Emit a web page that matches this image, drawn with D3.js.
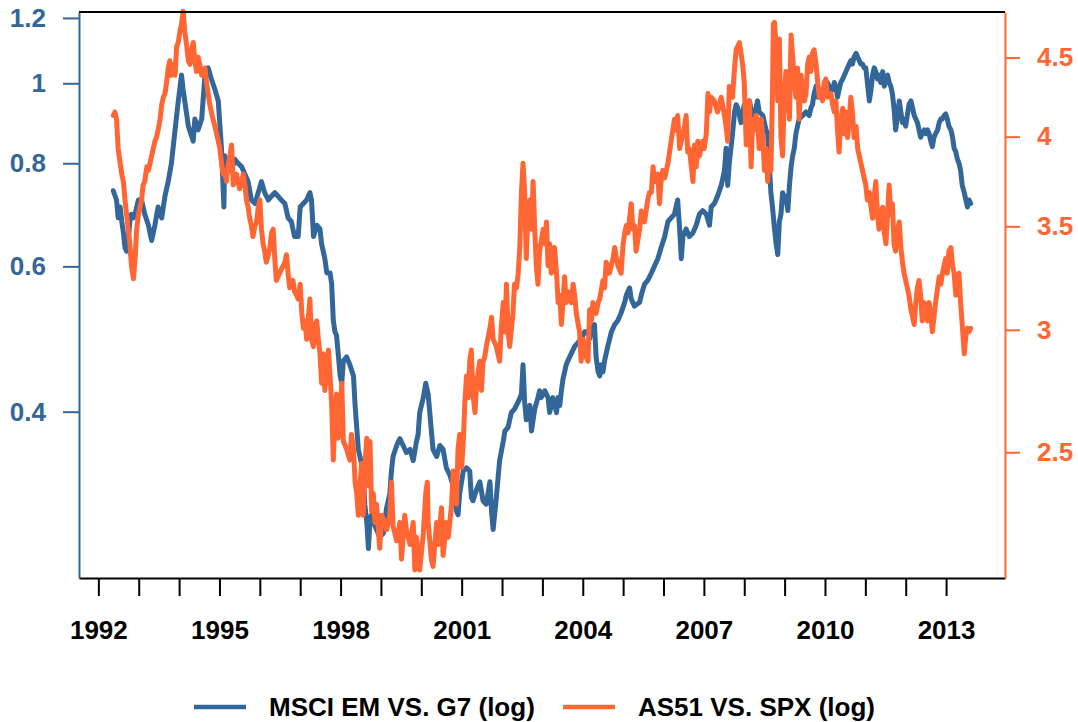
<!DOCTYPE html>
<html>
<head>
<meta charset="utf-8">
<script src="https://cdn.jsdelivr.net/npm/d3@7.9.0/dist/d3.min.js"></script>
<style>
  body { margin: 0; background: #fff; }
  svg { display: block; }
  text { font-family: "Liberation Sans", Arial, Helvetica, sans-serif; font-weight: bold; }
</style>
</head>
<body>
<svg id="chart" width="1078" height="722"></svg>
<script>
const emSeries = [
  [1992.37,0.741],[1992.45,0.722],[1992.49,0.687],[1992.54,0.708],[1992.58,0.680],[1992.62,0.659],[1992.66,0.632],[1992.70,0.626],
  [1992.74,0.645],[1992.78,0.680],[1992.82,0.694],[1992.87,0.687],[1992.91,0.694],[1992.99,0.722],[1993.07,0.722],[1993.15,0.694],
  [1993.24,0.673],[1993.32,0.645],[1993.40,0.673],[1993.48,0.708],[1993.57,0.687],[1993.65,0.730],[1993.73,0.760],[1993.81,0.800],
  [1993.90,0.878],[1993.98,0.952],[1994.06,1.023],[1994.10,0.982],[1994.14,0.952],[1994.23,0.887],[1994.35,0.851],[1994.39,0.905],
  [1994.47,0.878],[1994.56,0.905],[1994.64,1.023],[1994.72,1.044],[1994.80,1.012],[1994.89,0.982],[1994.97,0.952],[1995.05,0.834],
  [1995.11,0.708],[1995.13,0.817],[1995.22,0.792],[1995.30,0.784],[1995.38,0.809],[1995.46,0.800],[1995.55,0.792],[1995.63,0.776],
  [1995.71,0.760],[1995.79,0.722],[1995.88,0.715],[1995.96,0.737],[1996.04,0.760],[1996.12,0.737],[1996.21,0.722],[1996.29,0.730],
  [1996.37,0.737],[1996.45,0.730],[1996.53,0.722],[1996.62,0.715],[1996.70,0.687],[1996.78,0.680],[1996.86,0.652],[1996.95,0.652],
  [1997.00,0.708],[1997.08,0.715],[1997.16,0.722],[1997.24,0.737],[1997.28,0.722],[1997.33,0.652],[1997.41,0.673],[1997.49,0.666],
  [1997.53,0.639],[1997.61,0.613],[1997.66,0.589],[1997.74,0.589],[1997.78,0.571],[1997.82,0.516],[1997.86,0.500],[1997.90,0.495],
  [1997.94,0.471],[1997.99,0.442],[1998.03,0.433],[1998.07,0.461],[1998.15,0.466],[1998.23,0.456],[1998.32,0.442],[1998.36,0.407],
  [1998.40,0.383],[1998.44,0.360],[1998.48,0.353],[1998.56,0.339],[1998.60,0.309],[1998.65,0.294],[1998.69,0.273],[1998.73,0.297],
  [1998.77,0.300],[1998.81,0.294],[1998.89,0.288],[1998.97,0.282],[1999.06,0.285],[1999.14,0.306],[1999.22,0.318],[1999.26,0.339],
  [1999.30,0.353],[1999.39,0.364],[1999.47,0.371],[1999.55,0.364],[1999.63,0.357],[1999.72,0.360],[1999.80,0.349],[1999.88,0.368],
  [1999.92,0.375],[1999.96,0.399],[2000.05,0.416],[2000.11,0.433],[2000.17,0.420],[2000.21,0.399],[2000.25,0.379],[2000.29,0.360],
  [2000.38,0.353],[2000.46,0.364],[2000.54,0.360],[2000.62,0.342],[2000.71,0.335],[2000.79,0.325],[2000.87,0.303],[2000.91,0.300],
  [2000.95,0.318],[2001.04,0.339],[2001.12,0.342],[2001.20,0.339],[2001.24,0.315],[2001.28,0.312],[2001.37,0.322],[2001.45,0.329],
  [2001.53,0.312],[2001.61,0.309],[2001.70,0.329],[2001.74,0.303],[2001.78,0.288],[2001.86,0.315],[2001.90,0.332],[2001.94,0.349],
  [2002.03,0.368],[2002.07,0.379],[2002.15,0.383],[2002.23,0.399],[2002.31,0.403],[2002.40,0.411],[2002.48,0.420],[2002.52,0.456],
  [2002.56,0.411],[2002.60,0.391],[2002.64,0.403],[2002.69,0.407],[2002.73,0.379],[2002.77,0.391],[2002.81,0.403],[2002.89,0.416],
  [2002.93,0.424],[2002.97,0.416],[2003.06,0.424],[2003.14,0.416],[2003.18,0.399],[2003.26,0.416],[2003.35,0.399],[2003.39,0.416],
  [2003.43,0.407],[2003.47,0.424],[2003.51,0.438],[2003.55,0.447],[2003.59,0.456],[2003.63,0.461],[2003.72,0.471],[2003.80,0.480],
  [2003.88,0.485],[2003.96,0.490],[2004.05,0.500],[2004.13,0.500],[2004.17,0.490],[2004.21,0.505],[2004.29,0.510],[2004.33,0.466],
  [2004.38,0.447],[2004.42,0.442],[2004.46,0.456],[2004.50,0.447],[2004.54,0.461],[2004.62,0.480],[2004.71,0.500],[2004.79,0.510],
  [2004.87,0.516],[2004.95,0.527],[2005.04,0.543],[2005.08,0.554],[2005.16,0.565],[2005.20,0.548],[2005.28,0.537],[2005.41,0.543],
  [2005.45,0.554],[2005.53,0.571],[2005.61,0.577],[2005.70,0.589],[2005.78,0.601],[2005.86,0.613],[2005.94,0.632],[2006.03,0.652],
  [2006.11,0.680],[2006.19,0.687],[2006.27,0.694],[2006.35,0.722],[2006.40,0.666],[2006.44,0.613],[2006.48,0.652],[2006.56,0.666],
  [2006.64,0.652],[2006.73,0.659],[2006.81,0.673],[2006.89,0.694],[2006.97,0.701],[2007.06,0.694],[2007.14,0.673],[2007.18,0.708],
  [2007.26,0.715],[2007.34,0.730],[2007.43,0.752],[2007.51,0.784],[2007.55,0.834],[2007.59,0.752],[2007.63,0.800],[2007.71,0.869],
  [2007.76,0.923],[2007.80,0.942],[2007.84,0.933],[2007.92,0.896],[2008.00,0.942],[2008.09,0.933],[2008.13,0.952],[2008.21,0.905],
  [2008.29,0.933],[2008.33,0.952],[2008.37,0.923],[2008.46,0.914],[2008.54,0.878],[2008.58,0.869],[2008.62,0.800],[2008.66,0.737],
  [2008.70,0.708],[2008.75,0.666],[2008.79,0.639],[2008.83,0.620],[2008.87,0.680],[2008.91,0.694],[2008.95,0.737],[2008.99,0.722],
  [2009.03,0.730],[2009.08,0.701],[2009.12,0.752],[2009.16,0.792],[2009.20,0.817],[2009.24,0.834],[2009.28,0.869],[2009.32,0.887],
  [2009.36,0.905],[2009.45,0.914],[2009.53,0.923],[2009.61,0.914],[2009.65,0.933],[2009.69,0.942],[2009.73,0.971],[2009.78,0.992],
  [2009.82,0.962],[2009.86,0.971],[2009.90,0.982],[2009.94,0.971],[2009.98,0.992],[2010.02,0.982],[2010.06,1.002],[2010.10,0.992],
  [2010.15,0.982],[2010.19,0.982],[2010.23,1.002],[2010.27,0.992],[2010.31,0.962],[2010.35,0.982],[2010.39,1.002],[2010.44,1.012],
  [2010.48,1.023],[2010.52,1.033],[2010.56,1.044],[2010.60,1.055],[2010.64,1.065],[2010.68,1.055],[2010.72,1.076],[2010.77,1.087],
  [2010.81,1.076],[2010.85,1.065],[2010.89,1.055],[2010.93,1.055],[2010.97,1.044],[2011.01,1.044],[2011.05,1.002],[2011.10,0.952],
  [2011.14,0.982],[2011.18,1.023],[2011.22,1.044],[2011.26,1.033],[2011.30,1.012],[2011.34,1.023],[2011.38,1.002],[2011.43,1.033],
  [2011.47,0.992],[2011.51,1.012],[2011.55,1.023],[2011.59,1.002],[2011.63,0.992],[2011.67,0.971],[2011.71,0.933],[2011.75,0.878],
  [2011.80,0.914],[2011.84,0.952],[2011.88,0.923],[2011.92,0.896],[2011.96,0.905],[2012.00,0.887],[2012.04,0.914],[2012.08,0.942],
  [2012.13,0.952],[2012.17,0.933],[2012.21,0.914],[2012.25,0.905],[2012.29,0.896],[2012.33,0.878],[2012.37,0.860],[2012.41,0.869],
  [2012.46,0.878],[2012.50,0.869],[2012.54,0.878],[2012.58,0.869],[2012.62,0.851],[2012.66,0.838],[2012.70,0.860],[2012.74,0.869],
  [2012.79,0.878],[2012.83,0.896],[2012.87,0.905],[2012.91,0.905],[2012.95,0.914],[2012.99,0.918],[2013.03,0.905],[2013.07,0.887],
  [2013.12,0.878],[2013.16,0.860],[2013.20,0.834],[2013.24,0.826],[2013.28,0.809],[2013.32,0.800],[2013.36,0.784],[2013.40,0.752],
  [2013.45,0.737],[2013.49,0.722],[2013.53,0.708],[2013.57,0.722],[2013.61,0.715]
];

const asSeries = [
  [1992.37,4.128],[1992.41,4.150],[1992.45,4.105],[1992.49,3.930],[1992.54,3.845],[1992.58,3.783],[1992.62,3.742],[1992.66,3.640],
  [1992.70,3.561],[1992.74,3.485],[1992.78,3.410],[1992.82,3.300],[1992.87,3.237],[1992.91,3.336],[1992.95,3.485],[1992.99,3.561],
  [1993.03,3.601],[1993.07,3.640],[1993.11,3.722],[1993.15,3.742],[1993.20,3.824],[1993.24,3.804],[1993.28,3.845],[1993.32,3.887],
  [1993.36,3.930],[1993.40,3.973],[1993.44,3.995],[1993.48,4.039],[1993.53,4.105],[1993.57,4.196],[1993.61,4.242],[1993.65,4.265],
  [1993.69,4.335],[1993.73,4.431],[1993.77,4.479],[1993.81,4.383],[1993.86,4.455],[1993.90,4.383],[1993.94,4.577],[1993.98,4.602],
  [1994.02,4.678],[1994.06,4.729],[1994.10,4.821],[1994.14,4.678],[1994.19,4.577],[1994.23,4.479],[1994.27,4.455],[1994.31,4.552],
  [1994.35,4.602],[1994.39,4.479],[1994.43,4.407],[1994.47,4.503],[1994.51,4.455],[1994.56,4.383],[1994.60,4.383],[1994.64,4.431],
  [1994.68,4.335],[1994.72,4.265],[1994.76,4.196],[1994.80,4.150],[1994.84,4.105],[1994.89,4.061],[1994.93,4.017],[1994.97,3.973],
  [1995.01,3.930],[1995.05,3.845],[1995.09,3.783],[1995.13,3.804],[1995.17,3.742],[1995.22,3.845],[1995.26,3.887],[1995.30,3.951],
  [1995.34,3.722],[1995.38,3.742],[1995.42,3.783],[1995.46,3.742],[1995.50,3.701],[1995.55,3.742],[1995.59,3.783],[1995.63,3.722],
  [1995.67,3.640],[1995.71,3.601],[1995.75,3.542],[1995.79,3.504],[1995.83,3.447],[1995.88,3.504],[1995.92,3.523],[1995.96,3.601],
  [1996.00,3.640],[1996.04,3.485],[1996.08,3.410],[1996.12,3.373],[1996.16,3.318],[1996.21,3.355],[1996.25,3.391],[1996.29,3.466],
  [1996.33,3.485],[1996.37,3.336],[1996.41,3.229],[1996.45,3.247],[1996.49,3.264],[1996.53,3.282],[1996.58,3.300],[1996.62,3.318],
  [1996.66,3.355],[1996.70,3.264],[1996.74,3.194],[1996.78,3.211],[1996.82,3.229],[1996.86,3.176],[1996.91,3.159],[1996.95,3.141],
  [1997.00,3.211],[1997.04,3.074],[1997.08,3.007],[1997.12,3.040],[1997.16,2.958],[1997.24,3.141],[1997.28,2.958],[1997.33,2.926],
  [1997.37,3.024],[1997.41,3.040],[1997.45,2.958],[1997.49,2.895],[1997.53,2.771],[1997.57,2.895],[1997.61,2.741],[1997.70,2.911],
  [1997.74,2.801],[1997.78,2.682],[1997.82,2.471],[1997.86,2.652],[1997.90,2.726],[1997.94,2.553],[1997.99,2.652],[1998.03,2.771],
  [1998.07,2.540],[1998.15,2.512],[1998.23,2.471],[1998.27,2.567],[1998.32,2.512],[1998.36,2.391],[1998.40,2.352],[1998.44,2.276],
  [1998.48,2.378],[1998.52,2.458],[1998.56,2.276],[1998.60,2.444],[1998.65,2.553],[1998.69,2.378],[1998.73,2.540],[1998.77,2.289],
  [1998.81,2.352],[1998.85,2.252],[1998.89,2.314],[1998.97,2.167],[1999.02,2.276],[1999.10,2.252],[1999.14,2.227],[1999.22,2.276],
  [1999.26,2.391],[1999.30,2.240],[1999.39,2.191],[1999.47,2.252],[1999.51,2.132],[1999.59,2.276],[1999.63,2.227],[1999.72,2.179],
  [1999.80,2.252],[1999.84,2.098],[1999.88,2.203],[1999.92,2.155],[1999.96,2.098],[2000.05,2.215],[2000.11,2.352],[2000.15,2.391],
  [2000.17,2.252],[2000.25,2.132],[2000.29,2.109],[2000.38,2.252],[2000.42,2.179],[2000.50,2.302],[2000.54,2.144],[2000.62,2.252],
  [2000.67,2.203],[2000.75,2.314],[2000.79,2.431],[2000.83,2.378],[2000.87,2.314],[2000.91,2.512],[2000.95,2.567],[2001.00,2.444],
  [2001.04,2.540],[2001.08,2.696],[2001.12,2.801],[2001.16,2.711],[2001.20,2.863],[2001.24,2.911],[2001.28,2.726],[2001.33,2.652],
  [2001.37,2.771],[2001.45,2.863],[2001.49,2.741],[2001.53,2.863],[2001.57,2.879],[2001.61,2.926],[2001.70,3.007],[2001.74,3.057],
  [2001.78,2.958],[2001.86,2.926],[2001.94,2.863],[2001.98,3.007],[2002.03,3.124],[2002.07,2.991],[2002.11,3.211],[2002.15,2.991],
  [2002.19,2.926],[2002.27,3.074],[2002.31,3.211],[2002.36,3.194],[2002.40,3.264],[2002.44,3.391],[2002.48,3.681],[2002.52,3.845],
  [2002.56,3.681],[2002.60,3.336],[2002.64,3.561],[2002.69,3.640],[2002.73,3.485],[2002.77,3.742],[2002.81,3.485],[2002.85,3.300],
  [2002.89,3.211],[2002.93,3.373],[2003.02,3.485],[2003.06,3.410],[2003.10,3.523],[2003.14,3.300],[2003.18,3.410],[2003.22,3.264],
  [2003.30,3.391],[2003.35,3.264],[2003.39,3.124],[2003.43,3.159],[2003.47,3.024],[2003.51,3.124],[2003.55,3.247],[2003.59,3.124],
  [2003.63,3.176],[2003.72,3.124],[2003.76,3.211],[2003.80,3.159],[2003.84,3.074],[2003.92,2.991],[2003.96,2.863],[2004.01,2.958],
  [2004.05,2.926],[2004.09,2.879],[2004.13,2.863],[2004.17,3.091],[2004.21,3.040],[2004.25,3.124],[2004.33,3.074],[2004.38,3.124],
  [2004.42,3.141],[2004.50,3.229],[2004.54,3.194],[2004.58,3.318],[2004.66,3.264],[2004.75,3.336],[2004.79,3.391],[2004.87,3.300],
  [2004.95,3.264],[2005.00,3.410],[2005.04,3.466],[2005.08,3.504],[2005.12,3.466],[2005.20,3.620],[2005.24,3.485],[2005.28,3.504],
  [2005.32,3.373],[2005.41,3.485],[2005.45,3.581],[2005.53,3.523],[2005.61,3.640],[2005.65,3.681],[2005.70,3.681],[2005.74,3.824],
  [2005.78,3.742],[2005.86,3.783],[2005.90,3.620],[2005.94,3.742],[2005.98,3.804],[2006.03,3.762],[2006.11,3.845],[2006.15,3.909],
  [2006.19,3.973],[2006.23,4.039],[2006.27,4.105],[2006.31,4.039],[2006.35,4.128],[2006.40,3.930],[2006.44,3.973],[2006.48,4.017],
  [2006.52,4.061],[2006.56,4.128],[2006.60,3.909],[2006.64,3.930],[2006.68,3.845],[2006.73,3.742],[2006.77,3.951],[2006.81,3.824],
  [2006.85,3.973],[2006.89,3.887],[2006.93,3.930],[2006.97,3.973],[2007.01,3.930],[2007.06,4.017],[2007.10,4.265],[2007.14,4.150],
  [2007.18,4.242],[2007.26,4.219],[2007.34,4.150],[2007.43,4.242],[2007.51,4.128],[2007.55,4.061],[2007.59,3.973],[2007.63,4.311],
  [2007.67,4.288],[2007.71,4.242],[2007.76,4.431],[2007.80,4.552],[2007.84,4.577],[2007.88,4.602],[2007.92,4.528],[2007.96,4.455],
  [2008.00,4.335],[2008.05,3.951],[2008.09,4.105],[2008.13,4.219],[2008.17,3.824],[2008.21,4.105],[2008.25,4.039],[2008.29,4.128],
  [2008.33,4.083],[2008.37,3.930],[2008.42,4.105],[2008.46,3.995],[2008.50,3.804],[2008.54,3.930],[2008.58,3.742],[2008.62,3.887],
  [2008.66,3.804],[2008.70,4.265],[2008.72,4.729],[2008.75,4.742],[2008.79,4.577],[2008.83,4.219],[2008.87,4.627],[2008.91,3.995],
  [2008.95,3.887],[2008.99,4.219],[2009.03,4.407],[2009.08,4.288],[2009.12,4.105],[2009.16,4.653],[2009.20,4.503],[2009.24,4.335],
  [2009.28,4.242],[2009.32,4.431],[2009.36,4.105],[2009.41,4.383],[2009.45,4.265],[2009.49,4.219],[2009.53,4.265],[2009.57,4.455],
  [2009.61,4.503],[2009.65,4.407],[2009.69,4.528],[2009.73,4.552],[2009.78,4.455],[2009.82,4.335],[2009.86,4.242],[2009.90,4.288],
  [2009.94,4.219],[2009.98,4.335],[2010.02,4.359],[2010.06,4.242],[2010.15,4.265],[2010.19,4.196],[2010.23,4.150],[2010.27,4.219],
  [2010.31,4.039],[2010.35,3.909],[2010.39,4.105],[2010.44,4.173],[2010.48,4.017],[2010.52,4.150],[2010.56,3.995],[2010.60,4.105],
  [2010.64,4.242],[2010.68,4.150],[2010.72,3.995],[2010.77,4.061],[2010.81,3.930],[2010.85,3.887],[2010.89,3.845],[2010.93,3.804],
  [2010.97,3.762],[2011.01,3.722],[2011.05,3.640],[2011.10,3.681],[2011.14,3.601],[2011.18,3.542],[2011.22,3.661],[2011.26,3.742],
  [2011.30,3.561],[2011.34,3.485],[2011.38,3.561],[2011.43,3.601],[2011.47,3.466],[2011.51,3.410],[2011.55,3.561],[2011.59,3.722],
  [2011.63,3.561],[2011.67,3.620],[2011.71,3.410],[2011.75,3.373],[2011.80,3.485],[2011.84,3.523],[2011.88,3.391],[2011.92,3.318],
  [2011.96,3.264],[2012.00,3.229],[2012.04,3.194],[2012.08,3.159],[2012.13,3.091],[2012.17,3.057],[2012.21,3.024],[2012.25,3.124],
  [2012.29,3.194],[2012.33,3.229],[2012.37,3.159],[2012.41,3.040],[2012.46,3.124],[2012.50,3.091],[2012.54,3.040],[2012.58,3.124],
  [2012.62,3.074],[2012.66,2.991],[2012.70,3.057],[2012.74,3.124],[2012.79,3.194],[2012.83,3.247],[2012.87,3.211],[2012.91,3.264],
  [2012.95,3.300],[2012.99,3.336],[2013.03,3.264],[2013.07,3.373],[2013.12,3.391],[2013.16,3.300],[2013.20,3.264],[2013.24,3.159],
  [2013.28,3.194],[2013.32,3.264],[2013.36,3.124],[2013.40,3.024],[2013.45,2.895],[2013.49,2.974],[2013.53,3.007],[2013.57,2.991],
  [2013.61,3.007]
];

const emTicks = [0.4, 0.6, 0.8, 1, 1.2];
const asTicks = [2.5, 3, 3.5, 4, 4.5];
const yearTicks = [1992, 1993, 1994, 1995, 1996, 1997, 1998, 1999, 2000, 2001, 2002,
                   2003, 2004, 2005, 2006, 2007, 2008, 2009, 2010, 2011, 2012, 2013];
const yearLabels = [1992, 1995, 1998, 2001, 2004, 2007, 2010, 2013];
const emRange = [0.2515, 1.22];
const asRange = [2.073, 4.816];
const seriesNames = ['MSCI EM VS. G7 (log)', 'AS51 VS. SPX (log)'];

const blue = '#336699';
const orange = '#ff6633';
const box = { left: 79, right: 1005, top: 12, bottom: 578 };
const fontSize = 26;
const lineWidth = 5;

const svg = d3.select('#chart');

// R style x range: data extent padded by 4% each side
const yearExtent = d3.extent(emSeries.concat(asSeries), d => d[0]);
const pad = (yearExtent[1] - yearExtent[0]) * 0.04;
const x = d3.scaleLinear()
  .domain([yearExtent[0] - pad, yearExtent[1] + pad])
  .range([box.left, box.right]);

const yLeft = d3.scaleLog().domain(emRange).range([box.bottom, box.top]);
const yRight = d3.scaleLog().domain(asRange).range([box.bottom, box.top]);

// series
const emLine = d3.line().x(d => x(d[0])).y(d => yLeft(d[1]));
const asLine = d3.line().x(d => x(d[0])).y(d => yRight(d[1]));

svg.append('path')
  .datum(emSeries)
  .attr('d', emLine)
  .attr('fill', 'none')
  .attr('stroke', blue)
  .attr('stroke-width', lineWidth)
  .attr('stroke-linejoin', 'round')
  .attr('stroke-linecap', 'round');

svg.append('path')
  .datum(asSeries)
  .attr('d', asLine)
  .attr('fill', 'none')
  .attr('stroke', orange)
  .attr('stroke-width', lineWidth)
  .attr('stroke-linejoin', 'round')
  .attr('stroke-linecap', 'round');

// top border
svg.append('line')
  .attr('x1', box.left).attr('x2', box.right)
  .attr('y1', box.top).attr('y2', box.top)
  .attr('stroke', '#000').attr('stroke-width', 2);

// bottom axis
const xAxis = svg.append('g')
  .attr('transform', `translate(0,${box.bottom})`)
  .call(d3.axisBottom(x)
    .tickValues(yearTicks)
    .tickFormat(d => yearLabels.includes(d) ? String(d) : '')
    .tickSizeInner(18)
    .tickSizeOuter(0)
    .tickPadding(25));
xAxis.select('.domain').attr('stroke', '#000').attr('stroke-width', 2);
xAxis.selectAll('.tick line').attr('stroke', '#000').attr('stroke-width', 2);
xAxis.selectAll('text').attr('fill', '#000').style('font-size', fontSize + 'px');

// left axis
const leftAxis = svg.append('g')
  .attr('transform', `translate(${box.left},0)`)
  .call(d3.axisLeft(yLeft)
    .tickValues(emTicks)
    .tickFormat(d3.format('~g'))
    .tickSizeInner(16)
    .tickSizeOuter(0)
    .tickPadding(17));
leftAxis.select('.domain').attr('stroke', blue).attr('stroke-width', 2);
leftAxis.selectAll('.tick line').attr('stroke', blue).attr('stroke-width', 2);
leftAxis.selectAll('text').attr('fill', blue).style('font-size', fontSize + 'px');

// right axis
const rightAxis = svg.append('g')
  .attr('transform', `translate(${box.right},0)`)
  .call(d3.axisRight(yRight)
    .tickValues(asTicks)
    .tickFormat(d3.format('~g'))
    .tickSizeInner(15)
    .tickSizeOuter(0)
    .tickPadding(17));
rightAxis.select('.domain').attr('stroke', orange).attr('stroke-width', 2);
rightAxis.selectAll('.tick line').attr('stroke', orange).attr('stroke-width', 2);
rightAxis.selectAll('text').attr('fill', orange).style('font-size', fontSize + 'px');

svg.selectAll('g').attr('font-family', null).attr('font-size', null);

// legend
const legendItems = [
  { name: seriesNames[0], color: blue, x: 194 },
  { name: seriesNames[1], color: orange, x: 563 }
];
const legend = svg.append('g');
legendItems.forEach(item => {
  legend.append('line')
    .attr('x1', item.x).attr('x2', item.x + 52)
    .attr('y1', 707).attr('y2', 707)
    .attr('stroke', item.color)
    .attr('stroke-width', 4.5);
  legend.append('text')
    .attr('x', item.x + 75)
    .attr('y', 716)
    .attr('fill', '#000')
    .style('font-size', fontSize + 'px')
    .text(item.name);
});
</script>
</body>
</html>
